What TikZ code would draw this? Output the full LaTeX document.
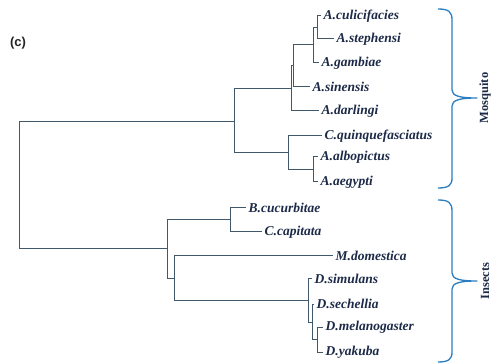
\documentclass[tikz,border=0pt]{standalone}
\usepackage{fontspec}
\setmainfont{Liberation Serif}
\setsansfont{Liberation Sans}
\usetikzlibrary{positioning}
\usepackage{xcolor}
\definecolor{treeline}{HTML}{41586A}
\definecolor{leafink}{HTML}{1C2A48}
\definecolor{bracketblue}{HTML}{2A7DC0}

\begin{document}
\begin{tikzpicture}[x=1pt,y=-1pt]
      \tikzstyle{species} = [anchor=west, inner sep=2.5pt, text=leafink, font=\fontsize{13.5}{15}\selectfont\bfseries\itshape]
      \tikzstyle{link} = [draw=treeline, line width=1pt]
      \tikzstyle{bracket} = [draw=bracketblue, line width=1.3pt, line join=round]
      \tikzstyle{group} = [rotate=90, text=leafink, font=\fontsize{12.5}{14}\selectfont\bfseries]

      \useasboundingbox (0,0) rectangle (495,363);
      \node[font=\sffamily\bfseries\fontsize{13}{15}\selectfont, text=black!85] (panel) at (18,43) {(c)};

      % inner nodes
      \coordinate (root) at (19,185.5);
      \coordinate (mosq) at (234,122);
      \coordinate (anoph1) at (291,88.5);
      \coordinate (anoph2) at (293,66);
      \coordinate (anoph3) at (313,45);
      \coordinate (anoph4) at (317,27.5);
      \coordinate (culex1) at (288,153);
      \coordinate (aedes) at (313,169.5);
      \coordinate (ins) at (167,249);
      \coordinate (tephr) at (230,220);
      \coordinate (musc) at (174,279);
      \coordinate (dros1) at (308,300.5);
      \coordinate (dros2) at (312,322);
      \coordinate (dros3) at (317,339.5);

      % leaves
      \node[species] (aculi) at (321,16) {A.culicifacies};
      \node[species] (asteph) at (334,39) {A.stephensi};
      \node[species] (agamb) at (319,63) {A.gambiae};
      \node[species] (asin) at (310,87) {A.sinensis};
      \node[species] (adarl) at (319,111) {A.darlingi};
      \node[species] (cquin) at (322,136) {C.quinquefasciatus};
      \node[species] (aalbo) at (318,157) {A.albopictus};
      \node[species] (aaeg) at (318,182) {A.aegypti};
      \node[species] (bcuc) at (246,208) {B.cucurbitae};
      \node[species] (ccap) at (262,232) {C.capitata};
      \node[species] (mdom) at (333,256) {M.domestica};
      \node[species] (dsim) at (312,279) {D.simulans};
      \node[species] (dsech) at (314,304) {D.sechellia};
      \node[species] (dmel) at (323,327) {D.melanogaster};
      \node[species] (dyak) at (323,352) {D.yakuba};

      % branches
      \path[link] (root) |- (mosq) (root) |- (ins);
      \path[link] (mosq) |- (anoph1) (mosq) |- (culex1);
      \path[link] (anoph1) |- (anoph2) (anoph1) |- (adarl.west);
      \path[link] (anoph2) |- (anoph3) (anoph2) |- (asin.west);
      \path[link] (anoph3) |- (anoph4) (anoph3) |- (agamb.west);
      \path[link] (anoph4) |- (aculi.west) (anoph4) |- (asteph.west);
      \path[link] (culex1) |- (cquin.west) (culex1) |- (aedes);
      \path[link] (aedes) |- (aalbo.west) (aedes) |- (aaeg.west);
      \path[link] (ins) |- (tephr) (ins) |- (musc);
      \path[link] (tephr) |- (bcuc.west) (tephr) |- (ccap.west);
      \path[link] (musc) |- (mdom.west) (musc) |- (dros1);
      \path[link] (dros1) |- (dsim.west) (dros1) |- (dros2);
      \path[link] (dros2) |- (dsech.west) (dros2) |- (dros3);
      \path[link] (dros3) |- (dmel.west) (dros3) |- (dyak.west);

      % groups
      \draw[bracket] (438,9) .. controls (449,9) and (452,12) .. (452,20) -- (452,90) .. controls (452,96) and (460,98) .. (477,98) .. controls (460,98) and (452,100) .. (452,106) -- (452,178) .. controls (452,185) and (449,188) .. (438,188);
      \draw[bracket] (438,200) .. controls (449,200) and (452,203) .. (452,211) -- (452,273) .. controls (452,279) and (460,281) .. (477,281) .. controls (460,281) and (452,283) .. (452,289) -- (452,352) .. controls (452,359) and (449,362) .. (438,362);
      \node[group] (mosqlabel) at (485,98) {Mosquito};
      \node[group] (inslabel) at (485,281) {Insects};
    \end{tikzpicture}
\end{document}
